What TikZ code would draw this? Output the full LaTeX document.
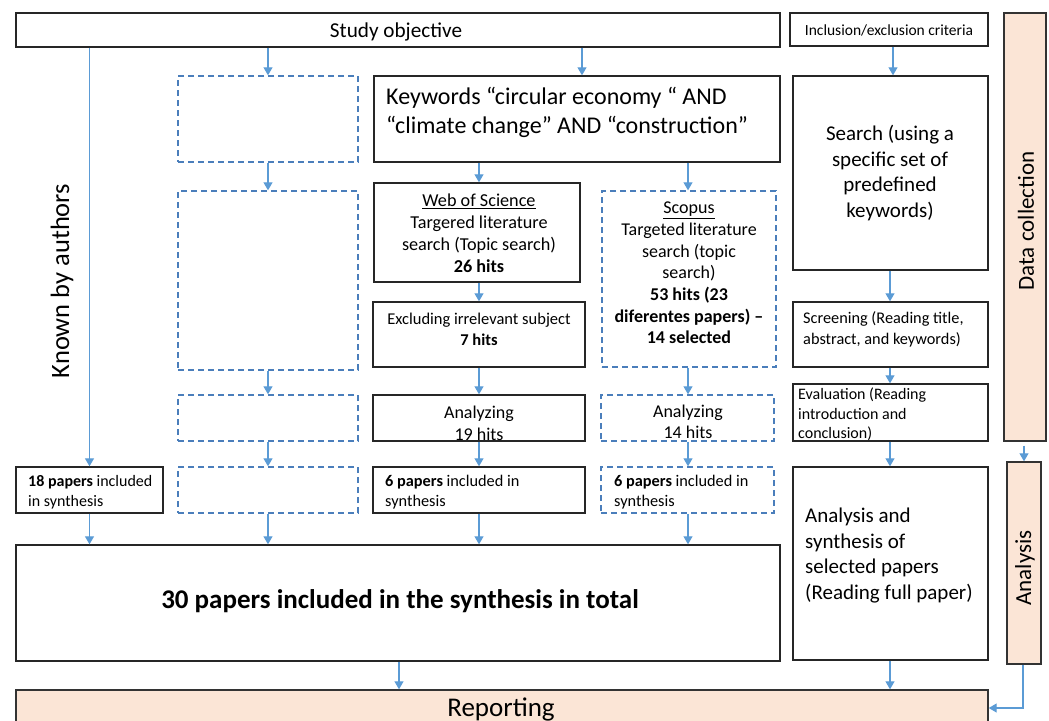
\documentclass[tikz,border=0pt]{standalone}
\usepackage{fontspec}
\setmainfont{Carlito}
\usetikzlibrary{arrows.meta,fit,calc}
\definecolor{ablue}{HTML}{5B9BD5}
\definecolor{dblue}{HTML}{4A7EBB}
\definecolor{peach}{HTML}{FBE5D6}
\newcommand\fsz[2]{\fontsize{#1}{#2}\selectfont}
\tikzset{
 box/.style={draw=black!85, line width=1.4pt, inner sep=0pt, fill=white},
 dbox/.style={draw=dblue, line width=1.4pt, dash pattern=on 6pt off 4pt, inner sep=0pt},
 obox/.style={draw=black!80, line width=1.4pt, fill=peach, inner sep=0pt},
 arr/.style={draw=ablue, line width=1.2pt, -{Triangle[width=9pt,length=8pt]}},
 txt/.style={inner sep=0pt, align=center},
 ltxt/.style={inner sep=0pt, align=left, anchor=west},
}
\begin{document}
\begin{tikzpicture}[x=1pt,y=-1pt]
\useasboundingbox (0,0) rectangle (1049,720);
% boxes
\node[box, fit={(16,13)(780,47)}] (so) {};
\node[box, fit={(790,13)(988,46)}] (inc) {};
\node[obox, fit={(1004,13)(1046,441)}] (dc) {};
\node[obox, fit={(1007,462)(1041,664)}] (an) {};
\node[obox, fit={(16,690)(988,740)}] (rep) {};
\node[dbox, fit={(178,76)(358,162)}] (d1) {};
\node[dbox, fit={(178,191)(358,370)}] (d2) {};
\node[dbox, fit={(178,395)(358,441)}] (d3) {};
\node[dbox, fit={(178,467)(358,513)}] (d4) {};
\node[box, fit={(16,467)(163,513)}] (kab) {};
\node[box, fit={(374,76)(780,162)}] (kw) {};
\node[box, fit={(374,183)(580,282)}] (wos) {};
\node[box, fit={(373,302)(585,367)}] (exc) {};
\node[box, fit={(373,395)(585,441)}] (a19) {};
\node[box, fit={(373,467)(585,513)}] (p6a) {};
\node[dbox, fit={(602,191)(776,367)}] (sco) {};
\node[dbox, fit={(601,395)(774,441)}] (a14) {};
\node[dbox, fit={(601,467)(774,513)}] (p6b) {};
\node[box, fit={(793,76)(988,270)}] (sea) {};
\node[box, fit={(793,302)(988,367)}] (scr) {};
\node[box, fit={(793,384)(988,441)}] (eva) {};
\node[box, fit={(793,467)(988,660)}] (ans) {};
\node[box, fit={(16,545)(780,661)}] (tot) {};
% texts
\node[txt, font=\fsz{21.2}{24}] (tso) at (396,32) {Study objective};
\node[txt, font=\fsz{15.5}{19}] (tinc) at (889,30) {Inclusion/exclusion criteria};
\node[txt, rotate=90, font=\fsz{23}{27}] (tdc) at (1026,221) {Data collection};
\node[txt, rotate=90, font=\fsz{23}{27}] (tan) at (1025,568) {Analysis};
\node[txt, font=\fsz{27}{30}] (trep) at (501,709) {Reporting};
\node[txt, rotate=90, font=\fsz{26.5}{30}] (tknown) at (62,281) {Known by authors};
\node[ltxt, font=\fsz{24}{29}] (tkw) at (386,112.5) {Keywords “circular economy “ AND\\“climate change” AND “construction”};
\node[txt, font=\fsz{18.2}{22}] (twos) at (479,233) {\underline{Web of Science}\\Targered literature\\search (Topic search)\\\textbf{26 hits}};
\node[txt, font=\fsz{16.5}{21}] (texc) at (479,329) {Excluding irrelevant subject\\\textbf{7 hits}};
\node[txt, font=\fsz{18}{22}] (ta19) at (479,423) {Analyzing\\19 hits};
\node[ltxt, font=\fsz{16.3}{20}] (tp6a) at (385,492) {\textbf{6 papers} included in\\synthesis};
\node[txt, font=\fsz{18}{21.7}] (tsco) at (689,273) {\underline{Scopus}\\Targeted literature\\search (topic\\search)\\\textbf{53 hits (23}\\\textbf{diferentes papers) –}\\\textbf{14 selected}};
\node[txt, font=\fsz{18}{21.5}] (ta14) at (688,422) {Analyzing\\14 hits};
\node[ltxt, font=\fsz{16.3}{20}] (tp6b) at (614,492) {\textbf{6 papers} included in\\synthesis};
\node[ltxt, font=\fsz{16}{20}] (tkab) at (28,492) {\textbf{18 papers} included\\in synthesis};
\node[txt, font=\fsz{21}{25.5}] (tsea) at (890,173) {Search (using a\\specific set of\\predefined\\keywords)};
\node[ltxt, font=\fsz{16.3}{21}] (tscr) at (803,329.5) {Screening (Reading title,\\abstract, and keywords)};
\node[ltxt, font=\fsz{16}{19.5}] (teva) at (798,414.5) {Evaluation (Reading\\introduction and\\conclusion)};
\node[ltxt, font=\fsz{21}{25.5}] (tans) at (805,555.5) {Analysis and\\synthesis of\\selected papers\\(Reading full paper)};
\node[txt, font=\fsz{27}{30}\bfseries] (ttot) at (400,601) {30 papers included in the synthesis in total};
% arrows
\draw[arr] (so.south -| d1.north) -- (d1.north);
\draw[arr] (so.south -| 582,0) -- (582,0 |- kw.north);
\draw[arr] (inc.south -| 893,0) -- (893,0 |- sea.north);
\draw[arr] (so.south -| kab.north) -- (kab.north);
\draw[arr] (d1) -- (d2);
\draw[arr] (d2) -- (d3);
\draw[arr] (d3) -- (d4);
\draw[arr] (d4) -- (d4.south |- tot.north);
\draw[arr] (kab) -- (kab.south |- tot.north);
\draw[arr] (kw.south -| 479,0) -- (479,0 |- wos.north);
\draw[arr] (kw.south -| 688,0) -- (688,0 |- sco.north);
\draw[arr] (wos.south -| 479,0) -- (479,0 |- exc.north);
\draw[arr] (exc.south -| 479,0) -- (479,0 |- a19.north);
\draw[arr] (a19.south -| 479,0) -- (479,0 |- p6a.north);
\draw[arr] (p6a.south -| 479,0) -- (479,0 |- tot.north);
\draw[arr] (sco.south -| 688,0) -- (688,0 |- a14.north);
\draw[arr] (a14.south -| 688,0) -- (688,0 |- p6b.north);
\draw[arr] (p6b.south -| 688,0) -- (688,0 |- tot.north);
\draw[arr] (sea.south -| 890,0) -- (890,0 |- scr.north);
\draw[arr] (scr.south -| 890,0) -- (890,0 |- eva.north);
\draw[arr] (eva.south -| 890,0) -- (890,0 |- ans.north);
\draw[arr] (ans.south -| 890,0) -- (890,0 |- rep.north);
\draw[arr] (tot.south -| 399,0) -- (399,0 |- rep.north);
\draw[arr] ([yshift=-4pt]dc.south -| 1024,0) -- (1024,0 |- an.north);
\draw[arr] (an.south -| 1023,0) -- (1023,708) -- (rep.east |- 0,708);
\end{tikzpicture}
\end{document}
